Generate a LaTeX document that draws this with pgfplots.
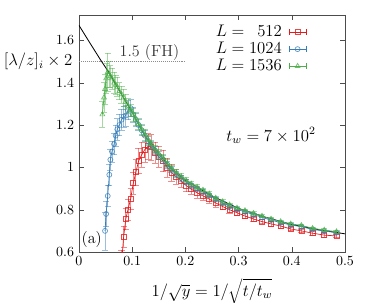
\documentclass[border=0pt]{standalone}
\usepackage{pgfplots}
\pgfplotsset{compat=1.18}
\usepackage{pgfplotstable}
\definecolor{cred}{RGB}{228,26,28}
\definecolor{cblue}{RGB}{55,126,184}
\definecolor{cgreen}{RGB}{77,175,74}
\newcommand{\lbf}{\fontsize{11.5}{13}\selectfont}

\pgfplotstableread{
x y e
0.080 0.55 0.06
0.084 0.673 0.05
0.088 0.756 0.05
0.092 0.800 0.05
0.097 0.850 0.05
0.102 0.925 0.05
0.107 0.977 0.06
0.112 1.030 0.06
0.118 1.060 0.06
0.124 1.085 0.06
0.130 1.100 0.06
0.136 1.095 0.06
0.143 1.070 0.05
0.150 1.050 0.05
0.158 1.030 0.05
0.166 1.000 0.045
0.174 0.975 0.04
0.183 0.955 0.035
0.192 0.935 0.03
0.201 0.915 0.03
0.211 0.897 0.025
0.222 0.880 0.025
0.233 0.865 0.02
0.245 0.850 0.02
0.257 0.832 0.02
0.270 0.815 0.015
0.283 0.800 0.015
0.297 0.786 0.012
0.312 0.770 0.012
0.328 0.756 0.01
0.344 0.744 0.01
0.361 0.733 0.01
0.379 0.723 0.01
0.398 0.709 0.008
0.418 0.700 0.008
0.439 0.689 0.008
0.461 0.680 0.008
0.484 0.676 0.008
}\redtab

\pgfplotstableread{
x y e
0.049 0.700 0.09
0.051 0.780 0.06
0.054 0.865 0.05
0.057 0.965 0.05
0.059 1.036 0.05
0.062 1.075 0.05
0.066 1.110 0.05
0.069 1.150 0.05
0.072 1.180 0.05
0.076 1.200 0.05
0.080 1.225 0.05
0.084 1.240 0.05
0.088 1.245 0.05
0.092 1.270 0.045
0.097 1.280 0.04
0.102 1.250 0.035
0.107 1.225 0.03
0.112 1.200 0.025
0.118 1.175 0.025
0.124 1.150 0.025
0.130 1.125 0.02
0.136 1.105 0.02
0.143 1.080 0.02
0.150 1.058 0.02
0.158 1.037 0.018
0.166 1.013 0.018
0.174 0.990 0.015
0.183 0.968 0.015
0.192 0.950 0.015
0.201 0.932 0.012
0.211 0.915 0.012
0.222 0.900 0.012
0.233 0.885 0.01
0.245 0.868 0.01
0.257 0.850 0.01
0.270 0.832 0.01
0.283 0.817 0.008
0.297 0.802 0.008
0.312 0.790 0.008
0.328 0.777 0.008
0.344 0.764 0.007
0.361 0.751 0.007
0.379 0.739 0.007
0.398 0.728 0.006
0.418 0.720 0.006
0.439 0.707 0.006
0.461 0.699 0.006
0.484 0.692 0.006
}\bluetab

\pgfplotstableread{
x y e
0.044 1.250 0.06
0.047 1.330 0.07
0.049 1.370 0.07
0.051 1.420 0.07
0.054 1.450 0.09
0.057 1.440 0.06
0.059 1.430 0.05
0.062 1.420 0.05
0.066 1.400 0.05
0.069 1.390 0.045
0.072 1.380 0.045
0.076 1.360 0.04
0.080 1.345 0.04
0.084 1.330 0.04
0.088 1.310 0.035
0.092 1.290 0.035
0.097 1.270 0.03
0.102 1.250 0.03
0.107 1.230 0.03
0.112 1.205 0.025
0.118 1.180 0.025
0.124 1.155 0.025
0.130 1.130 0.02
0.136 1.110 0.02
0.143 1.085 0.02
0.150 1.065 0.02
0.158 1.045 0.018
0.166 1.020 0.018
0.174 0.997 0.015
0.183 0.975 0.015
0.192 0.957 0.015
0.201 0.940 0.012
0.211 0.922 0.012
0.222 0.907 0.012
0.233 0.893 0.01
0.245 0.875 0.01
0.257 0.855 0.01
0.270 0.838 0.01
0.283 0.823 0.008
0.297 0.808 0.008
0.312 0.796 0.008
0.328 0.783 0.008
0.344 0.770 0.007
0.361 0.756 0.007
0.379 0.744 0.007
0.398 0.733 0.006
0.418 0.726 0.006
0.439 0.712 0.006
0.461 0.704 0.006
0.484 0.696 0.006
}\greentab

\begin{document}
\begin{tikzpicture}
\begin{axis}[
  width=190bp, height=169.3bp, scale only axis,
  xmin=0, xmax=0.5, ymin=0.6, ymax=1.72,
  xtick={0,0.1,0.2,0.3,0.4,0.5},
  ytick={0.6,0.8,1,1.2,1.4,1.6},
  xticklabel style={/pgf/number format/fixed},
  yticklabel style={/pgf/number format/fixed},
  axis line style={black!70},
  tick style={black!70},
  major tick length=3.6bp,
  xlabel={$1/\sqrt{y} = 1/\sqrt{t/t_w}$},
  xlabel style={font=\lbf, inner sep=0pt, yshift=-5.3bp},
  ylabel={$[\lambda/z]_i\times 2$},
  ylabel style={font=\lbf, inner sep=0pt, at={(axis description cs:0,0.8036)}, rotate=-90, anchor=east, xshift=-4.5bp},
  clip mode=individual,
  legend style={draw=none, fill=none, at={(0.873,0.981)}, anchor=north east,
    legend cell align=left, row sep=-1.5pt, font=\lbf},
  legend plot pos=right,
  legend image code/.code={
    \path (0bp,0bp);
    \draw[#1,mark=none] (2.8bp,0bp)--(15.3bp,0bp);
    \draw[#1,mark=none] (2.8bp,-2bp)--(2.8bp,2bp) (15.3bp,-2bp)--(15.3bp,2bp);
    \draw[#1,only marks] plot coordinates {(9bp,0bp)};
  },
]
\addplot[black, line width=0.6pt, forget plot] coordinates {
(0,1.671)(0.02,1.59)(0.04,1.51)(0.055,1.453)(0.08,1.345)(0.1,1.26)(0.124,1.15)
(0.15,1.065)(0.174,0.995)(0.2,0.94)(0.25,0.865)(0.3,0.806)(0.35,0.765)(0.4,0.73)(0.45,0.706)(0.5,0.686)};
\addplot[black!45, densely dotted, forget plot] coordinates {(0,1.5)(0.2,1.5)};

\addplot[cred, line width=0.5pt, mark=square, mark size=1.8pt,
  mark options={solid, draw opacity=0.8},
  error bars/y dir=both, error bars/y explicit,
  error bars/error bar style={cred, opacity=0.5, line width=0.6pt},
  error bars/error mark options={rotate=90, mark size=2.2pt, cred, opacity=0.5}]
  table[x=x, y=y, y error=e] {\redtab};
\addlegendentry{\lbf $L = \phantom{0}512$\hspace{22bp}}

\addplot[cblue, line width=0.5pt, mark=o, mark size=1.8pt,
  mark options={solid, draw opacity=0.8},
  error bars/y dir=both, error bars/y explicit,
  error bars/error bar style={cblue, opacity=0.5, line width=0.6pt},
  error bars/error mark options={rotate=90, mark size=2.2pt, cblue, opacity=0.5}]
  table[x=x, y=y, y error=e] {\bluetab};
\addlegendentry{\lbf $L = 1024$\hspace{22bp}}

\addplot[cgreen, line width=0.5pt, mark=triangle, mark size=2pt,
  mark options={solid, draw opacity=0.8},
  error bars/y dir=both, error bars/y explicit,
  error bars/error bar style={cgreen, opacity=0.5, line width=0.6pt},
  error bars/error mark options={rotate=90, mark size=2.2pt, cgreen, opacity=0.5}]
  table[x=x, y=y, y error=e] {\greentab};
\addlegendentry{\lbf $L = 1536$\hspace{22bp}}

\node[font=\lbf, text=black!80] at (axis cs:0.1325,1.543) {1.5 (FH)};
\node[font=\lbf] at (axis cs:0.361,1.15) {$t_w = 7\times 10^2$};
\node[font=\lbf] at (axis cs:0.024,0.657) {(a)};
\end{axis}
\pgfresetboundingbox
\useasboundingbox ([xshift=-56.4bp,yshift=-35.7bp]current axis.south west) rectangle ([xshift=20.7bp,yshift=10.7bp]current axis.north east);
\end{tikzpicture}
\end{document}
